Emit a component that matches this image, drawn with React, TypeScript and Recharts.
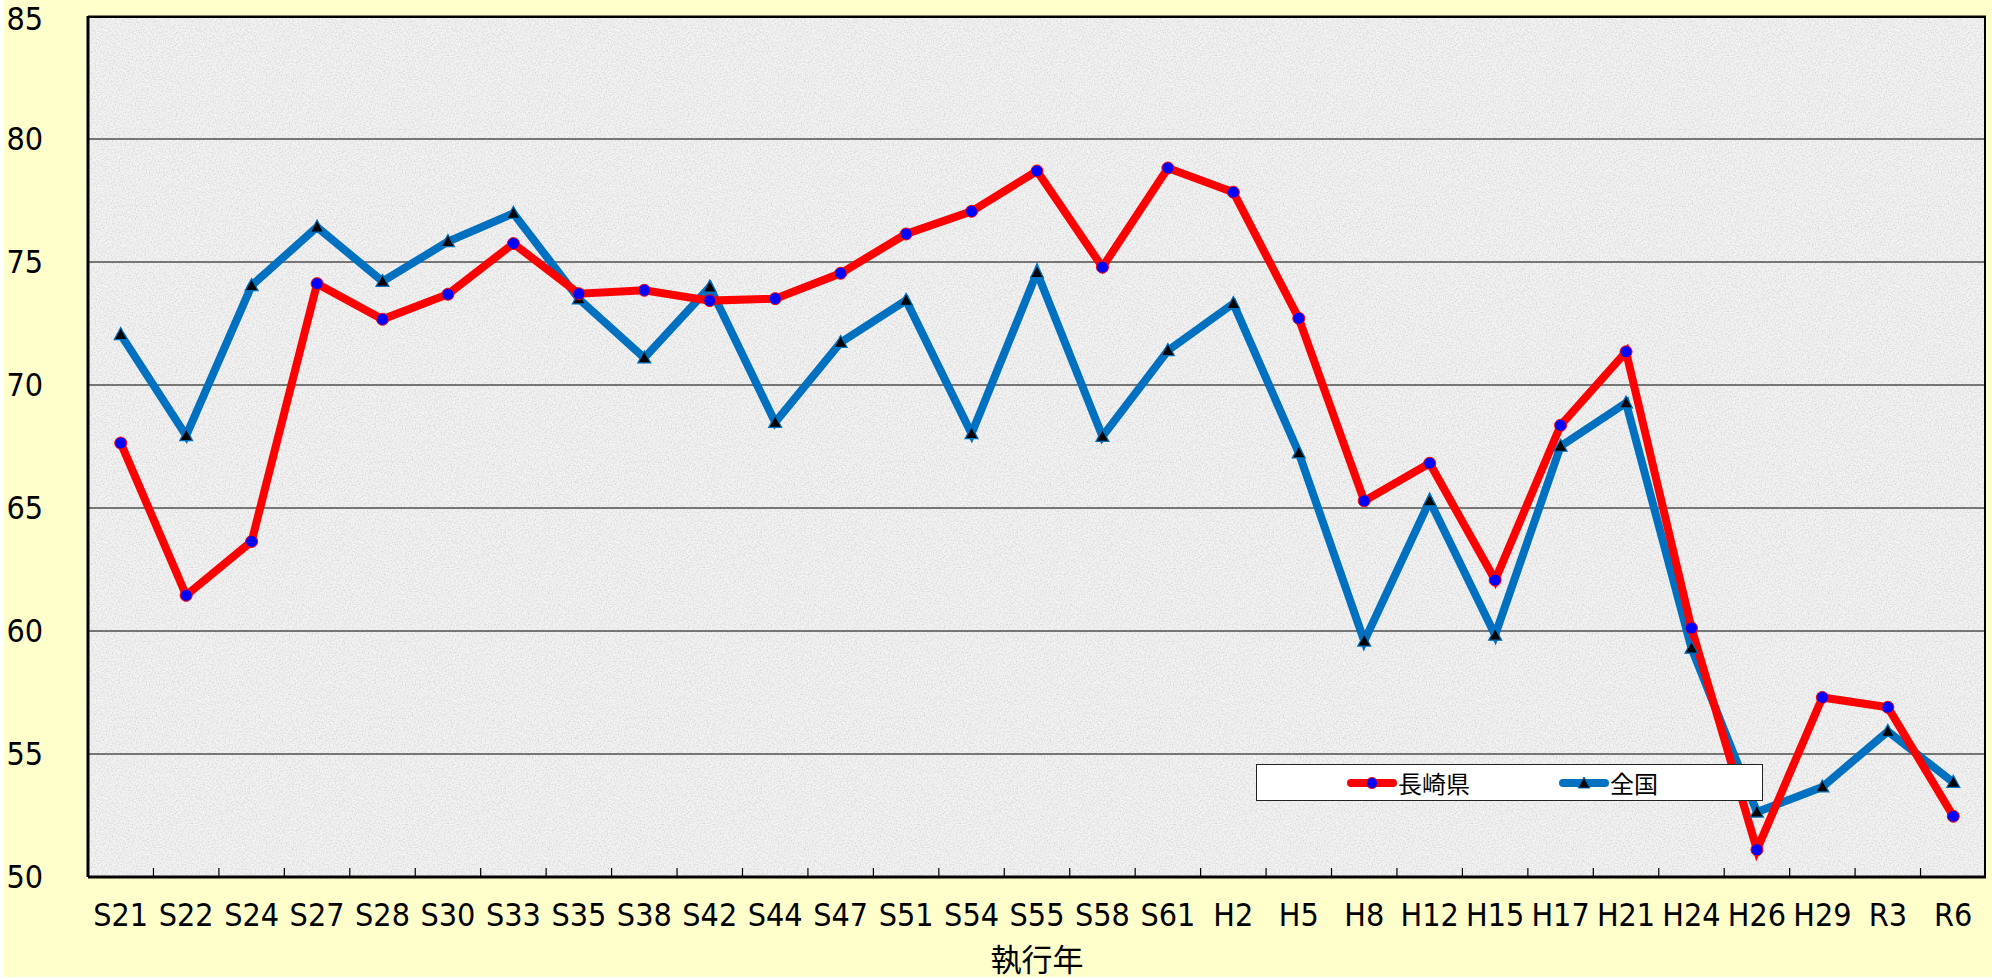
import React from 'react';
import { ComposedChart, Line, XAxis, YAxis, CartesianGrid, Legend } from 'recharts';

const years = [
  'S21', 'S22', 'S24', 'S27', 'S28', 'S30', 'S33', 'S35', 'S38', 'S42', 'S44', 'S47', 'S51', 'S54', 'S55',
  'S58', 'S61', 'H2', 'H5', 'H8', 'H12', 'H15', 'H17', 'H21', 'H24', 'H26', 'H29', 'R3', 'R6',
];
const nagasaki = [
  67.64, 61.45, 63.64, 74.12, 72.67, 73.69, 75.75, 73.71, 73.85, 73.43, 73.51, 74.54, 76.14, 77.06, 78.7,
  74.79, 78.82, 77.84, 72.71, 65.29, 66.82, 62.07, 68.36, 71.35, 60.12, 51.11, 57.3, 56.9, 52.47,
];
const national = [
  72.05, 67.94, 74.04, 76.42, 74.21, 75.83, 76.98, 73.5, 71.1, 73.98, 68.48, 71.73, 73.44, 68.02, 74.57,
  67.91, 71.4, 73.31, 67.24, 59.59, 65.29, 59.83, 67.51, 69.27, 59.3, 52.64, 53.66, 55.92, 53.85,
];
const yTicks = [50, 55, 60, 65, 70, 75, 80, 85];

const data = years.map((y, i) => ({ year: y, nagasaki: nagasaki[i], national: national[i] }));

const W = 1992;
const H = 979;
const M = { top: 16, right: 6, left: 0, bottom: 0 };
const Y_W = 88;
const X_H = 102;

const LATIN = '"DejaVu Sans Condensed", "Liberation Sans Narrow", "Liberation Sans", sans-serif';
const JP = '"Noto Sans CJK JP", sans-serif';
const RED = '#ff0000';
const BLUE = '#0070c0';

// speckled grey fill, like the reference's textured plot area
const noise =
  "url(\"data:image/svg+xml;utf8,<svg xmlns='http://www.w3.org/2000/svg' width='256' height='256'>" +
  "<filter id='n'><feTurbulence type='fractalNoise' baseFrequency='0.7' numOctaves='2' stitchTiles='stitch'/>" +
  "<feColorMatrix values='0 0 0 0 0.55 0 0 0 0 0.55 0 0 0 0 0.55 1.3 0 0 0 -0.52'/></filter>" +
  "<rect width='100%' height='100%' filter='url(%23n)'/></svg>\")";

function XTick(props: any) {
  const { x, y, payload } = props;
  const half = payload?.offset || (W - M.right - Y_W) / years.length / 2;
  return (
    <g>
      <line x1={x - half} x2={x - half} y1={y} y2={y - 9} stroke="#000" strokeWidth={1.2} />
      <text x={x} y={y + 49} textAnchor="middle" fontSize={32} fontFamily={LATIN} fill="#000">
        {payload.value}
      </text>
    </g>
  );
}

function Triangle(props: any) {
  const { cx, cy } = props;
  if (cx == null || cy == null) return null;
  return (
    <polygon
      points={`${cx},${cy - 7} ${cx - 6.5},${cy + 5} ${cx + 6.5},${cy + 5}`}
      fill="#000"
      stroke={BLUE}
      strokeWidth={1.2}
    />
  );
}

function RedDot(props: any) {
  const { cx, cy } = props;
  if (cx == null || cy == null) return null;
  return <circle cx={cx} cy={cy} r={6} fill="#0000ff" stroke={RED} strokeWidth={1} />;
}

function LegendBox() {
  return (
    <div
      style={{
        width: 505,
        height: 35,
        background: '#fff',
        border: '1px solid #222',
        position: 'relative',
        fontFamily: JP,
        fontSize: 24,
      }}
    >
      <svg width={50} height={20} style={{ position: 'absolute', left: 90, top: 8 }}>
        <line x1={4} x2={46} y1={10} y2={10} stroke={RED} strokeWidth={8} strokeLinecap="round" />
        <circle cx={25} cy={10} r={5.5} fill="#0000ff" stroke={RED} strokeWidth={1} />
      </svg>
      <span style={{ position: 'absolute', left: 141, top: 0, lineHeight: '35px' }}>長崎県</span>
      <svg width={50} height={20} style={{ position: 'absolute', left: 302, top: 8 }}>
        <line x1={4} x2={46} y1={10} y2={10} stroke={BLUE} strokeWidth={8} strokeLinecap="round" />
        <polygon points="25,4 19,15 31,15" fill="#000" stroke={BLUE} strokeWidth={1} />
      </svg>
      <span style={{ position: 'absolute', left: 353, top: 0, lineHeight: '35px' }}>全国</span>
    </div>
  );
}

export default function App() {
  const plotW = W - M.right - Y_W;
  const plotH = H - M.top - X_H;
  return (
    <div style={{ position: 'absolute', left: 0, top: 0, width: W, height: H, background: '#fff' }}>
      <div style={{ position: 'absolute', left: 4, top: 0, right: 0, bottom: 2, background: '#ffffcc' }} />
      <div
        style={{
          position: 'absolute',
          left: Y_W,
          top: M.top,
          width: plotW,
          height: plotH,
          boxSizing: 'border-box',
          borderTop: '2px solid #000',
          borderRight: '2px solid #000',
          backgroundColor: '#f3f3f3',
          backgroundImage: noise,
        }}
      />
      <div style={{ position: 'absolute', left: 0, top: 0 }}>
        <ComposedChart width={W} height={H} data={data} margin={M}>
          <CartesianGrid vertical={false} stroke="#000" strokeWidth={1} />
          <XAxis
            dataKey="year"
            scale="band"
            interval={0}
            height={X_H}
            tickSize={0}
            tickMargin={0}
            tick={<XTick />}
            axisLine={{ stroke: '#000', strokeWidth: 3 }}
            tickLine={false}
            label={{
              value: '執行年',
              position: 'insideBottom',
              offset: 8,
              style: { fontSize: 31, fontFamily: JP, fill: '#000' },
            }}
          />
          <YAxis
            domain={[50, 85]}
            ticks={yTicks}
            width={Y_W}
            tickSize={0}
            tickMargin={45}
            tickLine={false}
            axisLine={{ stroke: '#000', strokeWidth: 3 }}
            tick={{ fontSize: 32, fontFamily: LATIN, fill: '#000' }}
            allowDataOverflow
          />
          <Legend
            layout="vertical"
            align="center"
            verticalAlign="middle"
            wrapperStyle={{ left: 1256, top: 764, width: 507, height: 37 }}
            content={() => <LegendBox />}
          />
          <Line
            dataKey="national"
            name="全国"
            stroke={BLUE}
            strokeWidth={8}
            dot={<Triangle />}
            activeDot={false}
            isAnimationActive={false}
          />
          <Line
            dataKey="nagasaki"
            name="長崎県"
            stroke={RED}
            strokeWidth={8}
            dot={<RedDot />}
            activeDot={false}
            isAnimationActive={false}
          />
        </ComposedChart>
      </div>
    </div>
  );
}
